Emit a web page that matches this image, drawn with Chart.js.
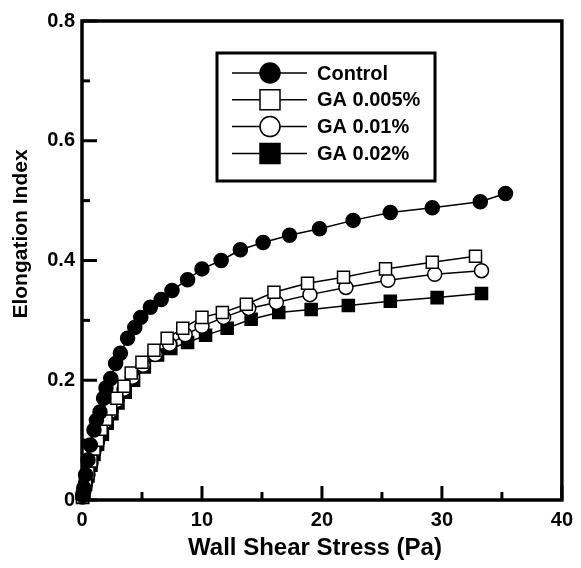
<!DOCTYPE html>
<html>
<head>
<meta charset="utf-8">
<script src="https://cdn.jsdelivr.net/npm/chart.js@4.4.0/dist/chart.umd.min.js"></script>
<style>
  html, body { margin: 0; padding: 0; background: #fff; }
</style>
</head>
<body>
<canvas id="chart" width="581" height="568"></canvas>
<script>
// values
let seriesNames = ["Control", "GA 0.005%", "GA 0.01%", "GA 0.02%"];

let controlX = [0.05, 0.15, 0.3, 0.5, 0.7, 1.0, 1.2, 1.5, 1.8, 2.0, 2.4, 2.8, 3.2, 3.8, 4.4, 4.9, 5.7, 6.6, 7.5, 8.8, 10.0, 11.6, 13.2, 15.1, 17.3, 19.8, 22.6, 25.7, 29.2, 33.2, 35.3];
let controlY = [0.008, 0.02, 0.042, 0.067, 0.092, 0.117, 0.133, 0.147, 0.17, 0.187, 0.203, 0.228, 0.245, 0.27, 0.288, 0.305, 0.322, 0.335, 0.35, 0.368, 0.386, 0.4, 0.418, 0.43, 0.442, 0.453, 0.467, 0.48, 0.488, 0.498, 0.512];

let ga005X = [0.05, 0.15, 0.3, 0.5, 0.75, 1.0, 1.3, 1.6, 2.0, 2.4, 2.9, 3.5, 4.1, 5.0, 6.0, 7.1, 8.4, 10.0, 11.7, 13.7, 16.0, 18.8, 21.8, 25.3, 29.2, 32.8];
let ga005Y = [0.005, 0.015, 0.03, 0.045, 0.065, 0.085, 0.1, 0.118, 0.135, 0.152, 0.17, 0.19, 0.212, 0.23, 0.25, 0.27, 0.287, 0.305, 0.313, 0.327, 0.347, 0.362, 0.372, 0.386, 0.397, 0.407];

let ga01X = [0.05, 0.15, 0.3, 0.5, 0.75, 1.0, 1.3, 1.6, 2.0, 2.4, 2.9, 3.5, 4.2, 5.1, 6.1, 7.3, 8.6, 10.0, 11.8, 13.9, 16.2, 19.0, 22.0, 25.5, 29.4, 33.3];
let ga01Y = [0.005, 0.014, 0.028, 0.043, 0.062, 0.082, 0.098, 0.115, 0.132, 0.148, 0.166, 0.185, 0.205, 0.225, 0.243, 0.26, 0.276, 0.29, 0.305, 0.32, 0.33, 0.343, 0.355, 0.367, 0.377, 0.383];

let ga02X = [0.05, 0.15, 0.3, 0.5, 0.75, 1.0, 1.3, 1.7, 2.1, 2.5, 3.0, 3.6, 4.3, 5.2, 6.3, 7.4, 8.8, 10.3, 12.1, 14.1, 16.4, 19.1, 22.2, 25.7, 29.6, 33.3];
let ga02Y = [0.004, 0.012, 0.026, 0.04, 0.058, 0.076, 0.093, 0.11, 0.128, 0.144, 0.162, 0.18, 0.2, 0.222, 0.242, 0.253, 0.263, 0.275, 0.287, 0.302, 0.313, 0.318, 0.325, 0.332, 0.338, 0.345];

let xMajor = [0, 10, 20, 30, 40];
let xMinor = [5, 15, 25, 35];
let yMajor = [0, 0.2, 0.4, 0.6, 0.8];
let yMinor = [0.1, 0.3, 0.5, 0.7];

let xTitle = "Wall Shear Stress (Pa)";
let yTitle = "Elongation Index";

let fontFam = "'Liberation Sans', Arial, Helvetica, sans-serif";

function pts(xs, ys) {
  return xs.map((x, i) => ({ x: x, y: ys[i] }));
}

let styles = [
  { shape: "circle", fill: "#000", r: 7 },
  { shape: "rect", fill: "#fff", r: 8.5 },
  { shape: "circle", fill: "#fff", r: 7 },
  { shape: "rect", fill: "#000", r: 8.5 },
];
let allData = [pts(controlX, controlY), pts(ga005X, ga005Y), pts(ga01X, ga01Y), pts(ga02X, ga02Y)];

let datasets = allData.map((d, i) => ({
  label: seriesNames[i],
  data: d,
  showLine: true,
  borderColor: "#000",
  borderWidth: 1.5,
  pointStyle: styles[i].shape,
  pointRadius: styles[i].r,
  pointBackgroundColor: styles[i].fill,
  pointBorderColor: "#000",
  pointBorderWidth: 1.5,
  clip: false,
}));

// frame, inward ticks, axis titles and the boxed legend
let decor = {
  id: "decor",
  afterDraw(chart) {
    let ctx = chart.ctx;
    let a = chart.chartArea;
    let xs = chart.scales.x, ys = chart.scales.y;
    ctx.save();
    ctx.strokeStyle = "#000";
    ctx.lineWidth = 3;
    ctx.lineCap = "butt";
    xMajor.concat(xMinor).forEach(v => {
      let len = xMajor.includes(v) ? 14 : 8;
      let px = xs.getPixelForValue(v);
      ctx.beginPath(); ctx.moveTo(px, a.bottom); ctx.lineTo(px, a.bottom - len); ctx.stroke();
    });
    yMajor.concat(yMinor).forEach(v => {
      let len = yMajor.includes(v) ? 15 : 8;
      let py = ys.getPixelForValue(v);
      ctx.beginPath(); ctx.moveTo(a.left, py); ctx.lineTo(a.left + len, py); ctx.stroke();
    });
    ctx.lineWidth = 3.5;
    ctx.strokeRect(a.left, a.top, a.right - a.left, a.bottom - a.top);

    // axis titles
    ctx.fillStyle = "#000";
    ctx.textAlign = "center";
    ctx.textBaseline = "middle";
    ctx.font = "bold 24px " + fontFam;
    ctx.fillText(xTitle, 315, 548);
    ctx.save();
    ctx.translate(21, 234);
    ctx.rotate(-Math.PI / 2);
    ctx.font = "bold 21px " + fontFam;
    ctx.fillText(yTitle, 0, 0);
    ctx.restore();

    // legend
    ctx.fillStyle = "#fff";
    ctx.fillRect(217, 53, 218, 128);
    ctx.lineWidth = 3;
    ctx.strokeRect(217, 53, 218, 128);
    ctx.font = "bold 20px " + fontFam;
    ctx.textBaseline = "middle";
    ctx.textAlign = "left";
    seriesNames.forEach((name, i) => {
      let y = 73 + i * 26.8;
      ctx.lineWidth = 1.5;
      ctx.beginPath(); ctx.moveTo(232, y); ctx.lineTo(307, y); ctx.stroke();
      ctx.fillStyle = styles[i].fill;
      ctx.beginPath();
      if (styles[i].shape === "circle") ctx.arc(270, y, 10, 0, Math.PI * 2);
      else ctx.rect(260, y - 10, 20, 20);
      ctx.fill(); ctx.stroke();
      ctx.fillStyle = "#000";
      ctx.fillText(name, 317, y + 1);
    });
    ctx.restore();
  },
};

new Chart("chart", {
  type: "scatter",
  data: { datasets: datasets },
  options: {
    responsive: false,
    animation: false,
    layout: { padding: { left: 0, right: 14, top: 21, bottom: 0 } },
    plugins: {
      legend: { display: false },
      tooltip: { enabled: false },
    },
    scales: {
      x: {
        type: "linear",
        min: 0,
        max: 40,
        grid: { display: false, drawTicks: false },
        border: { display: false },
        ticks: {
          stepSize: 10,
          padding: 8,
          color: "#000",
          font: { family: fontFam, size: 20, weight: "bold" },
        },
        afterFit(s) { s.height = 68; },
      },
      y: {
        min: 0,
        max: 0.8,
        grid: { display: false, drawTicks: false },
        border: { display: false },
        ticks: {
          stepSize: 0.2,
          padding: 7,
          color: "#000",
          font: { family: fontFam, size: 20, weight: "bold" },
        },
        afterFit(s) { s.width = 82; },
      },
    },
  },
  plugins: [decor],
});
</script>
</body>
</html>
